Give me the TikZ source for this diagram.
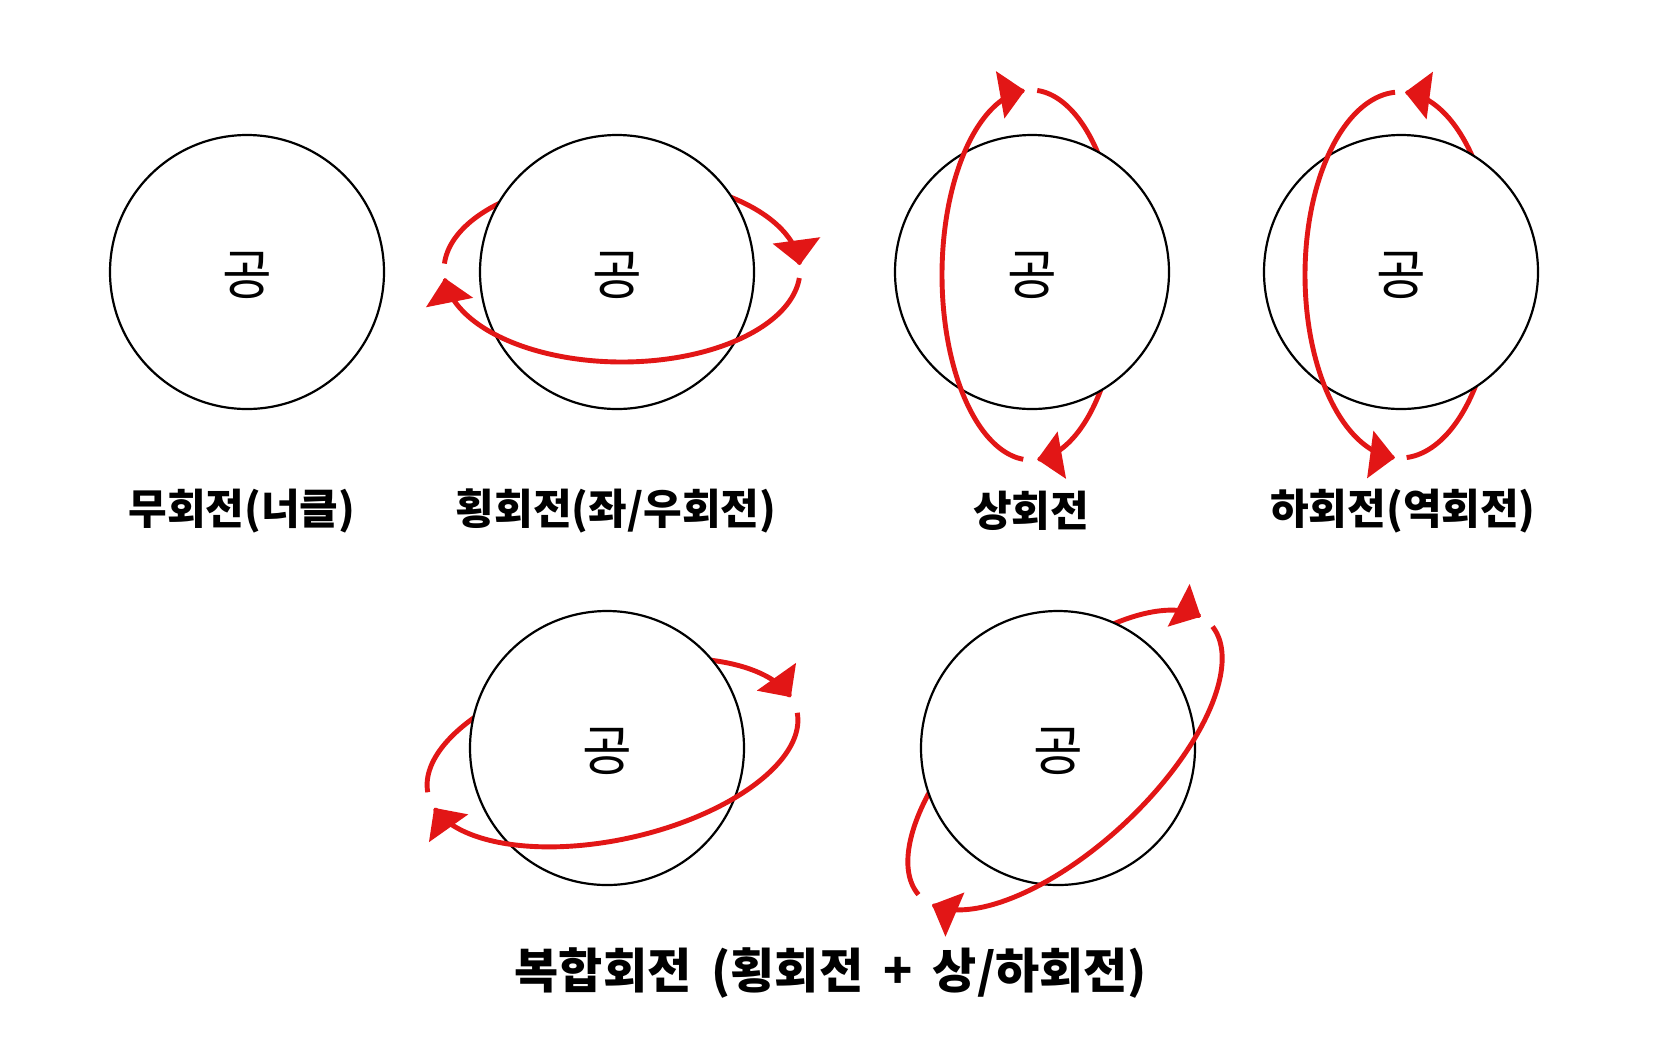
\documentclass[tikz,border=0pt]{standalone}
\usepackage{fontspec}
\setmainfont{Noto Sans CJK KR}
\usetikzlibrary{arrows.meta}
\definecolor{spinred}{RGB}{226,22,22}
% elliptic arc: [opts]{cx}{cy}{a}{b}{phi}{t1}{t2}  (pixel coordinates, y downwards)
\newcommand{\ellarc}[8][]{%
  \draw[spinline,#1] plot[domain=#7:#8, samples=100, variable=\t]
    ({#2 + (#4)*cos(\t)*cos(#6) - (#5)*sin(\t)*sin(#6)},
     {#3 + (#4)*cos(\t)*sin(#6) + (#5)*sin(\t)*cos(#6)});}
\newcommand{\ballt}{\raisebox{-1.5pt}[\height][\depth]{공}}
\newcommand{\widesp}{\spaceskip=0.42em\relax}
\begin{document}
\begin{tikzpicture}[x=0.5pt, y=-0.5pt,
  spinline/.style={draw=spinred, line width=2.45pt, line join=round,
    -{Triangle[length=12.5pt,width=23.5pt]}},
  ball/.style={circle, draw=black, line width=1.1pt, fill=white,
    minimum size=137pt, inner sep=0pt, font=\fontsize{27}{30}\selectfont},
  lab/.style={inner sep=0pt, font=\bfseries\fontsize{21}{25}\selectfont},
  biglab/.style={inner sep=0pt, font=\bfseries\fontsize{24}{29}\selectfont}]
\fill[white] (0,0) rectangle (1660,1062);
\useasboundingbox (0,0) rectangle (1660,1062);

% 1: no spin
\node[ball] (b1) at (247,272) {\ballt};
\node[lab] (l1) at (242,511) {무회전(너클)};

% 2: side spin
\ellarc{622}{270}{178}{92}{0}{184}{357}
\node[ball] (b2) at (617,272) {\ballt};
\ellarc{622}{270}{178}{92}{0}{5}{175}
\node[lab] (l2) at (616,511) {횡회전(좌/우회전)};

% 3: top spin
\ellarc{1031}{275}{89}{185}{0}{274}{446}
\node[ball] (b3) at (1032,272) {\ballt};
\ellarc{1031}{275}{89}{185}{0}{95}{266}
\node[lab] (l3) at (1031,511) {상회전};

% 4: back spin
\ellarc{1400}{275}{95}{-183}{0}{-86}{87}
\node[ball] (b4) at (1401,272) {\ballt};
\ellarc{1400}{275}{95}{-183}{0}{-267}{-93}
\node[lab] (l4) at (1403,511) {하회전(역회전)};

% 5: combined (side)
\ellarc{612.5}{752.5}{189}{87}{-12.6}{181}{350}
\node[ball] (b5) at (607,748) {\ballt};
\ellarc{612.5}{752.5}{189}{87}{-12.6}{1}{170}

% 6: combined (tilted)
\ellarc{1065}{760}{199}{87}{-43}{181}{352}
\node[ball] (b6) at (1058,748) {\ballt};
\ellarc{1065}{760}{199}{87}{-43}{2}{170}

\node[biglab] (l5) at (831,973) {\widesp 복합회전 (횡회전 + 상/하회전)};
\end{tikzpicture}
\end{document}
